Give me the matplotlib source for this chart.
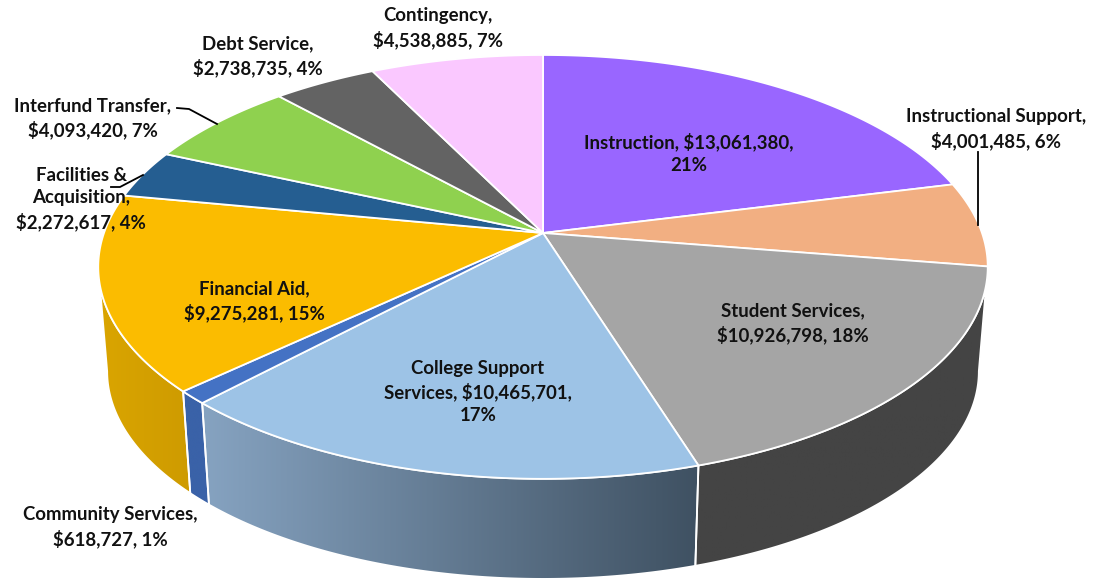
"""3D-look budget pie, drawn as a perspective-mapped circle."""
import matplotlib
matplotlib.use("Agg")
import matplotlib.pyplot as plt
from matplotlib.colors import LinearSegmentedColormap
from matplotlib.patches import Polygon
import numpy as np

categories = ["Instruction", "Instructional Support", "Student Services",
              "College Support Services", "Community Services", "Financial Aid",
              "Facilities & Acquisition", "Interfund Transfer", "Debt Service",
              "Contingency"]
values = [13061380, 4001485, 10926798, 10465701, 618727, 9275281,
          2272617, 4093420, 2738735, 4538885]
labels = ["Instruction, $13,061,380,\n21%",
          "Instructional Support,\n$4,001,485, 6%",
          "Student Services,\n$10,926,798, 18%",
          "College Support\nServices, $10,465,701,\n17%",
          "Community Services,\n$618,727, 1%",
          "Financial Aid,\n$9,275,281, 15%",
          "Facilities &\nAcquisition,\n$2,272,617, 4%",
          "Interfund Transfer,\n$4,093,420, 7%",
          "Debt Service,\n$2,738,735, 4%",
          "Contingency,\n$4,538,885, 7%"]
top_colors = ["#9966FF", "#F2AF82", "#A5A5A5", "#9DC3E6", "#4472C4",
              "#FBBC00", "#255E91", "#8FD14F", "#636363", "#FAC8FF"]
# left and right shade of the outer wall, only for the slices facing us
wall_colors = {2: ("#444444", "#444444"), 3: ("#86A3C1", "#3F5162"),
               4: ("#3A62A8", "#3A62A8"), 5: ("#DAA500", "#CE9B00")}
label_xy = [(689, 153), (996, 129), (793, 323), (478, 392), (110, 527),
            (254, 301), (81, 199), (93, 118), (258, 56), (438, 28)]
leaders = [[(978, 152), (978, 225)],
           [(111, 187), (120, 187), (143, 175)],
           [(177, 108), (189, 109), (217, 124)]]

CX, CY, RX, RY, K = 543, 233, 439, 206.5, 0.16
WALL_CY, WALL_SCALE = 338, 0.98
WALL_START = np.degrees(np.arccos(-K))


def project(deg, cy=CY, scale=1.0):
    # unit circle -> picture, the tilt moves the centre up from the ellipse middle
    a = np.radians(deg)
    u, v = np.sin(a), np.cos(a)
    return (CX + scale * RX * u / (1 + K * v),
            cy - scale * RY * v / (1 + K * v))


def arc(a0, a1, **kw):
    deg = np.linspace(a0, a1, max(int(abs(a1 - a0) * 2), 2) + 1)
    x, y = project(deg, **kw)
    return np.column_stack([x, y])


fig = plt.figure(figsize=(11.07, 5.8), dpi=100)
ax = fig.add_axes([0, 0, 1, 1])

edges = np.concatenate([[0], np.cumsum(values)]) / np.sum(values) * 360

for i, (shade_l, shade_r) in wall_colors.items():
    a0 = max(edges[i], WALL_START)
    a1 = min(edges[i + 1], 360 - WALL_START)
    poly = np.vstack([arc(a0, a1), arc(a1, a0, cy=WALL_CY, scale=WALL_SCALE)])
    cmap = LinearSegmentedColormap.from_list(f"wall{i}", [shade_l, shade_r])
    im = ax.imshow(np.linspace(0, 1, 256).reshape(1, -1), cmap=cmap, aspect="auto",
                   extent=(poly[:, 0].min(), poly[:, 0].max(),
                           poly[:, 1].max(), poly[:, 1].min()), zorder=1)
    clip = Polygon(poly, closed=True, transform=ax.transData)
    im.set_clip_path(clip)
    ax.add_patch(Polygon(poly, closed=True, fc="none", ec="white", lw=1.3, zorder=2))

for i, c in enumerate(top_colors):
    poly = np.vstack([[CX, CY], arc(edges[i], edges[i + 1])])
    ax.add_patch(Polygon(poly, closed=True, fc=c, ec="white", lw=1.3,
                         joinstyle="round", zorder=3))

for pts in leaders:
    xs, ys = zip(*pts)
    ax.plot(xs, ys, color="black", lw=1.3, zorder=4)

for text, (x, y) in zip(labels, label_xy):
    ax.text(x, y, text, ha="center", va="center", family="Lato", fontweight="bold",
            fontsize=13.4, linespacing=1.38, color="#111111", zorder=5)

ax.set_xlim(0, 1107)
ax.set_ylim(580, 0)
ax.axis("off")
fig.savefig("out.png", dpi=100)
plt.close()
